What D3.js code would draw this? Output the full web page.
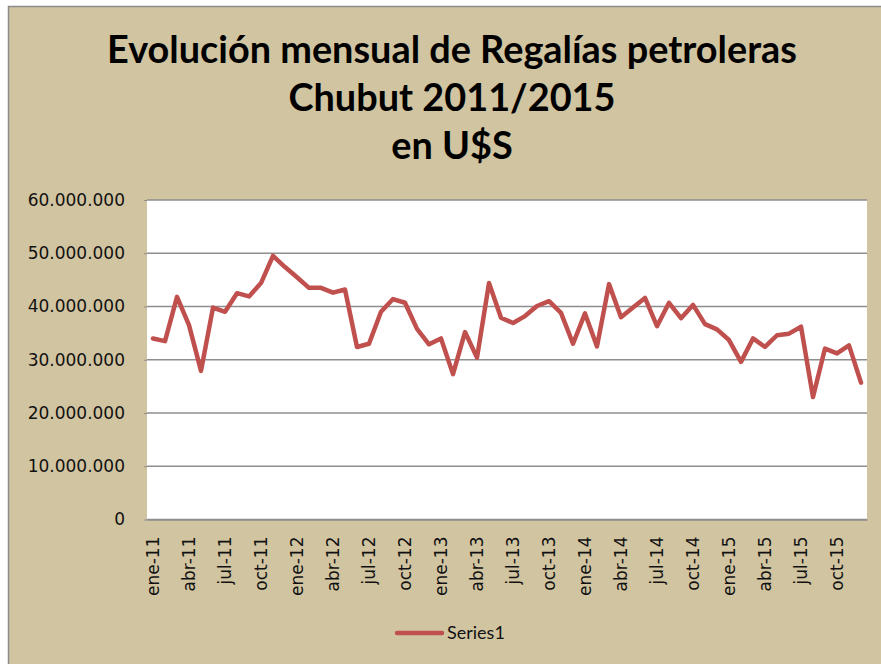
<!DOCTYPE html>
<html>
<head>
<meta charset="utf-8">
<script src="https://cdn.jsdelivr.net/npm/d3@7"></script>
<style>
  html, body { margin: 0; padding: 0; background: #ffffff; }
  svg { display: block; }
</style>
</head>
<body>
<svg id="chart" width="881" height="664"></svg>
<script>
// ---- data ----
const titleLines = ["Evolución mensual de Regalías petroleras", "Chubut 2011/2015", "en U$S"];
const monthNames = ["ene", "feb", "mar", "abr", "may", "jun", "jul", "ago", "sep", "oct", "nov", "dic"];
const years = ["11", "12", "13", "14", "15"];
const seriesName = "Series1";
const values = [
  34.0, 33.5, 41.8, 36.5, 27.9, 39.8, 39.0, 42.5, 41.9, 44.4, 49.5, 47.4,
  45.5, 43.5, 43.5, 42.6, 43.2, 32.4, 33.0, 39.0, 41.4, 40.7, 35.8, 32.9,
  34.0, 27.3, 35.2, 30.4, 44.4, 37.9, 36.9, 38.2, 40.1, 41.0, 38.8, 33.0,
  38.7, 32.5, 44.2, 38.0, 39.8, 41.6, 36.3, 40.7, 37.8, 40.3, 36.7, 35.7,
  33.7, 29.6, 34.0, 32.4, 34.6, 34.9, 36.2, 23.0, 32.1, 31.2, 32.7, 25.7
].map(v => v * 1e6);
const yTicks = [0, 10e6, 20e6, 30e6, 40e6, 50e6, 60e6];

const categories = [];
years.forEach(y => monthNames.forEach(m => categories.push(m + "-" + y)));
const data = categories.map((c, i) => ({ cat: c, value: values[i] }));
const labelCats = categories.filter((c, i) => i % 3 === 0);

// ---- layout ----
const svg = d3.select("#chart");
const bg = "#D1C4A1";
const plot = { left: 147, right: 867, top: 200, bottom: 519.5 };
const labelFont = "'DejaVu Sans', Verdana, sans-serif";

svg.append("rect").attr("x", 8.5).attr("y", 6.5).attr("width", 900).attr("height", 700)
  .attr("fill", bg).attr("stroke", "#8c8c8c").attr("stroke-width", 1.5);

// title
const titleG = svg.append("g");
const baselines = [62.7, 110.7, 158.5];
const t1 = titleG.append("text").attr("x", 452).attr("y", baselines[0])
  .attr("text-anchor", "middle").attr("font-family", "Lato, 'Open Sans', sans-serif")
  .attr("font-weight", "bold").attr("font-size", 34).attr("fill", "#000").text(titleLines[0]);
const w = t1.node().getComputedTextLength();
const fs = 34 * 690 / w;
t1.attr("font-size", fs);
titleLines.slice(1).forEach((t, i) => {
  titleG.append("text").attr("x", 452).attr("y", baselines[i + 1])
    .attr("text-anchor", "middle").attr("font-family", "Lato, 'Open Sans', sans-serif")
    .attr("font-weight", "bold").attr("font-size", fs).attr("fill", "#000").text(t);
});

// scales
const x = d3.scaleBand().domain(categories).range([plot.left, plot.right]);
const y = d3.scaleLinear().domain([0, 60e6]).range([plot.bottom, plot.top]);

// plot area
svg.append("rect").attr("x", plot.left).attr("y", plot.top)
  .attr("width", plot.right - plot.left).attr("height", plot.bottom - plot.top).attr("fill", "#ffffff");

// gridlines
svg.append("g").selectAll("line").data(yTicks).join("line")
  .attr("x1", plot.left).attr("x2", plot.right)
  .attr("y1", d => y(d)).attr("y2", d => y(d))
  .attr("stroke", "#8e8e8e").attr("stroke-width", 1.3);

// y axis
const fmt = d => d === 0 ? "0" : d3.format(",")(d).replace(/,/g, ".");
const yAxis = svg.append("g").attr("transform", `translate(${plot.left},0)`)
  .call(d3.axisLeft(y).tickValues(yTicks).tickFormat(fmt).tickSize(3).tickPadding(19));
yAxis.select(".domain").remove();
yAxis.selectAll(".tick line").attr("stroke", "#8e8e8e");
yAxis.selectAll("text").attr("font-family", labelFont).attr("font-size", 17).attr("fill", "#111");

// x axis
const xAxis = svg.append("g").attr("transform", `translate(0,${plot.bottom})`)
  .call(d3.axisBottom(x).tickValues(labelCats).tickSize(0).tickPadding(0));
xAxis.select(".domain").attr("stroke", "#8e8e8e").attr("stroke-width", 1.5);
xAxis.selectAll("text")
  .attr("font-family", labelFont).attr("font-size", 17).attr("fill", "#111")
  .attr("text-anchor", "end")
  .attr("transform", "rotate(-90)")
  .attr("x", -17).attr("y", 0).attr("dy", "0.35em");

// line
const line = d3.line().x(d => x(d.cat) + x.bandwidth() / 2).y(d => y(d.value));
svg.append("path").datum(data).attr("d", line)
  .attr("fill", "none").attr("stroke", "#C0504D").attr("stroke-width", 4.5)
  .attr("stroke-linejoin", "round").attr("stroke-linecap", "round");

// legend
const lg = svg.append("g");
lg.append("line").attr("x1", 397).attr("x2", 442).attr("y1", 633).attr("y2", 633)
  .attr("stroke", "#C0504D").attr("stroke-width", 4.5).attr("stroke-linecap", "round");
lg.append("text").attr("x", 447).attr("y", 633).attr("dy", "0.35em")
  .attr("font-family", "Lato, sans-serif").attr("font-size", 18).attr("fill", "#111").text(seriesName);
</script>
</body>
</html>
